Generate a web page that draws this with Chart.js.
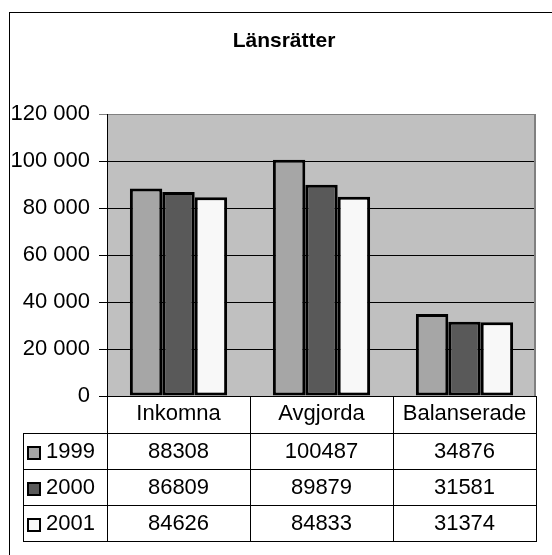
<!DOCTYPE html>
<html>
<head>
<meta charset="utf-8">
<title>Länsrätter</title>
<script src="https://cdn.jsdelivr.net/npm/chart.js@4"></script>
<style>
  html, body { margin: 0; padding: 0; background: #fff; }
  canvas { display: block; }
</style>
</head>
<body>
<canvas id="chart" width="552" height="555"></canvas>
<script>
const chartTitle = 'Länsrätter';
const categories = ['Inkomna', 'Avgjorda', 'Balanserade'];
const years = ['1999', '2000', '2001'];
const values1999 = [88308, 100487, 34876];
const values2000 = [86809, 89879, 31581];
const values2001 = [84626, 84833, 31374];
const yMin = 0;
const yMax = 120000;
const yStep = 20000;

const colors = ['#a6a6a6', '#595959', '#f8f8f8'];
const font = '"Liberation Sans", Arial, sans-serif';

// "120000" -> "120 000"
function fmt(v) {
  return String(v).replace(/\B(?=(\d{3})+(?!\d))/g, ' ');
}

function line(ctx, x1, y1, x2, y2) {
  ctx.beginPath();
  ctx.moveTo(x1, y1);
  ctx.lineTo(x2, y2);
  ctx.stroke();
}

// background, frame, title and the data table under the chart
const decor = {
  id: 'decor',
  beforeDraw(chart) {
    const { ctx, chartArea: a } = chart;
    ctx.save();
    ctx.fillStyle = '#c0c0c0';
    ctx.fillRect(a.left, a.top, a.right - a.left, a.bottom - a.top);
    ctx.strokeStyle = '#000';
    ctx.lineWidth = 1;
    ctx.strokeRect(9.5, 12.5, 560, 560);
    ctx.fillStyle = '#000';
    ctx.font = 'bold 21px ' + font;
    ctx.textAlign = 'center';
    ctx.textBaseline = 'middle';
    ctx.fillText(chartTitle, 284, 41);
    ctx.restore();
  },
  afterDraw(chart) {
    const { ctx, chartArea: a } = chart;
    const x = chart.scales.x;
    const rowH = 36;
    const top = a.bottom + 37;
    const tableLeft = 23;
    const n = chart.data.datasets.length;

    ctx.save();
    // right edge of plot area
    ctx.strokeStyle = '#808080';
    ctx.lineWidth = 2;
    line(ctx, a.right - 1, a.top, a.right - 1, a.bottom);

    // table grid
    const bounds = [a.left];
    for (let i = 0; i < categories.length - 1; i++) {
      bounds.push((x.getPixelForValue(i) + x.getPixelForValue(i + 1)) / 2);
    }
    bounds.push(a.right);
    ctx.strokeStyle = '#000';
    ctx.lineWidth = 1;
    bounds.forEach(b => {
      const px = Math.round(b) + 0.5;
      line(ctx, px, a.bottom, px, top + rowH * n);
    });
    line(ctx, tableLeft + 0.5, top, tableLeft + 0.5, top + rowH * n);
    for (let r = 0; r <= n; r++) {
      const py = Math.round(top + r * rowH) + 0.5;
      line(ctx, tableLeft, py, Math.round(a.right) + 1, py);
    }

    // rows: legend key, year, values
    ctx.font = '22px ' + font;
    ctx.textBaseline = 'middle';
    chart.data.datasets.forEach((ds, r) => {
      const cy = top + r * rowH + rowH / 2;
      ctx.fillStyle = ds.backgroundColor;
      ctx.fillRect(28, cy - 4, 12, 12);
      ctx.lineWidth = 2;
      ctx.strokeStyle = '#000';
      ctx.strokeRect(28, cy - 4, 12, 12);
      ctx.fillStyle = '#000';
      ctx.textAlign = 'left';
      ctx.fillText(ds.label, 46, cy + 1);
      ctx.textAlign = 'center';
      ds.data.forEach((v, i) => {
        ctx.fillText(String(v), x.getPixelForValue(i), cy + 1);
      });
    });
    ctx.restore();
  }
};

const seriesValues = [values1999, values2000, values2001];

new Chart(document.getElementById('chart').getContext('2d'), {
  type: 'bar',
  data: {
    labels: categories,
    datasets: years.map((y, i) => ({
      label: y,
      data: seriesValues[i],
      backgroundColor: colors[i],
      borderColor: '#000',
      borderWidth: 3,
      borderSkipped: false,
      barPercentage: 1,
      categoryPercentage: 0.68
    }))
  },
  options: {
    responsive: false,
    animation: false,
    layout: { padding: { top: 114, right: 16, bottom: 122, left: 0 } },
    plugins: {
      legend: { display: false },
      title: { display: false },
      tooltip: { enabled: false }
    },
    scales: {
      x: {
        grid: { display: false, drawTicks: false },
        border: { display: true, color: '#000', width: 1 },
        ticks: {
          color: '#000',
          font: { family: font, size: 22 },
          padding: 5,
          maxRotation: 0,
          autoSkip: false
        },
        afterFit(s) { s.height = 37; }
      },
      y: {
        min: yMin,
        max: yMax,
        ticks: {
          stepSize: yStep,
          color: '#000',
          font: { family: font, size: 22 },
          padding: 9,
          callback: v => fmt(v)
        },
        grid: {
          color: c => (c.tick && c.tick.value === yMax ? '#808080' : '#000'),
          lineWidth: 1,
          tickLength: 8
        },
        border: { color: '#000', width: 1 },
        afterFit(s) { s.width = 107; }
      }
    }
  },
  plugins: [decor]
});
</script>
</body>
</html>
